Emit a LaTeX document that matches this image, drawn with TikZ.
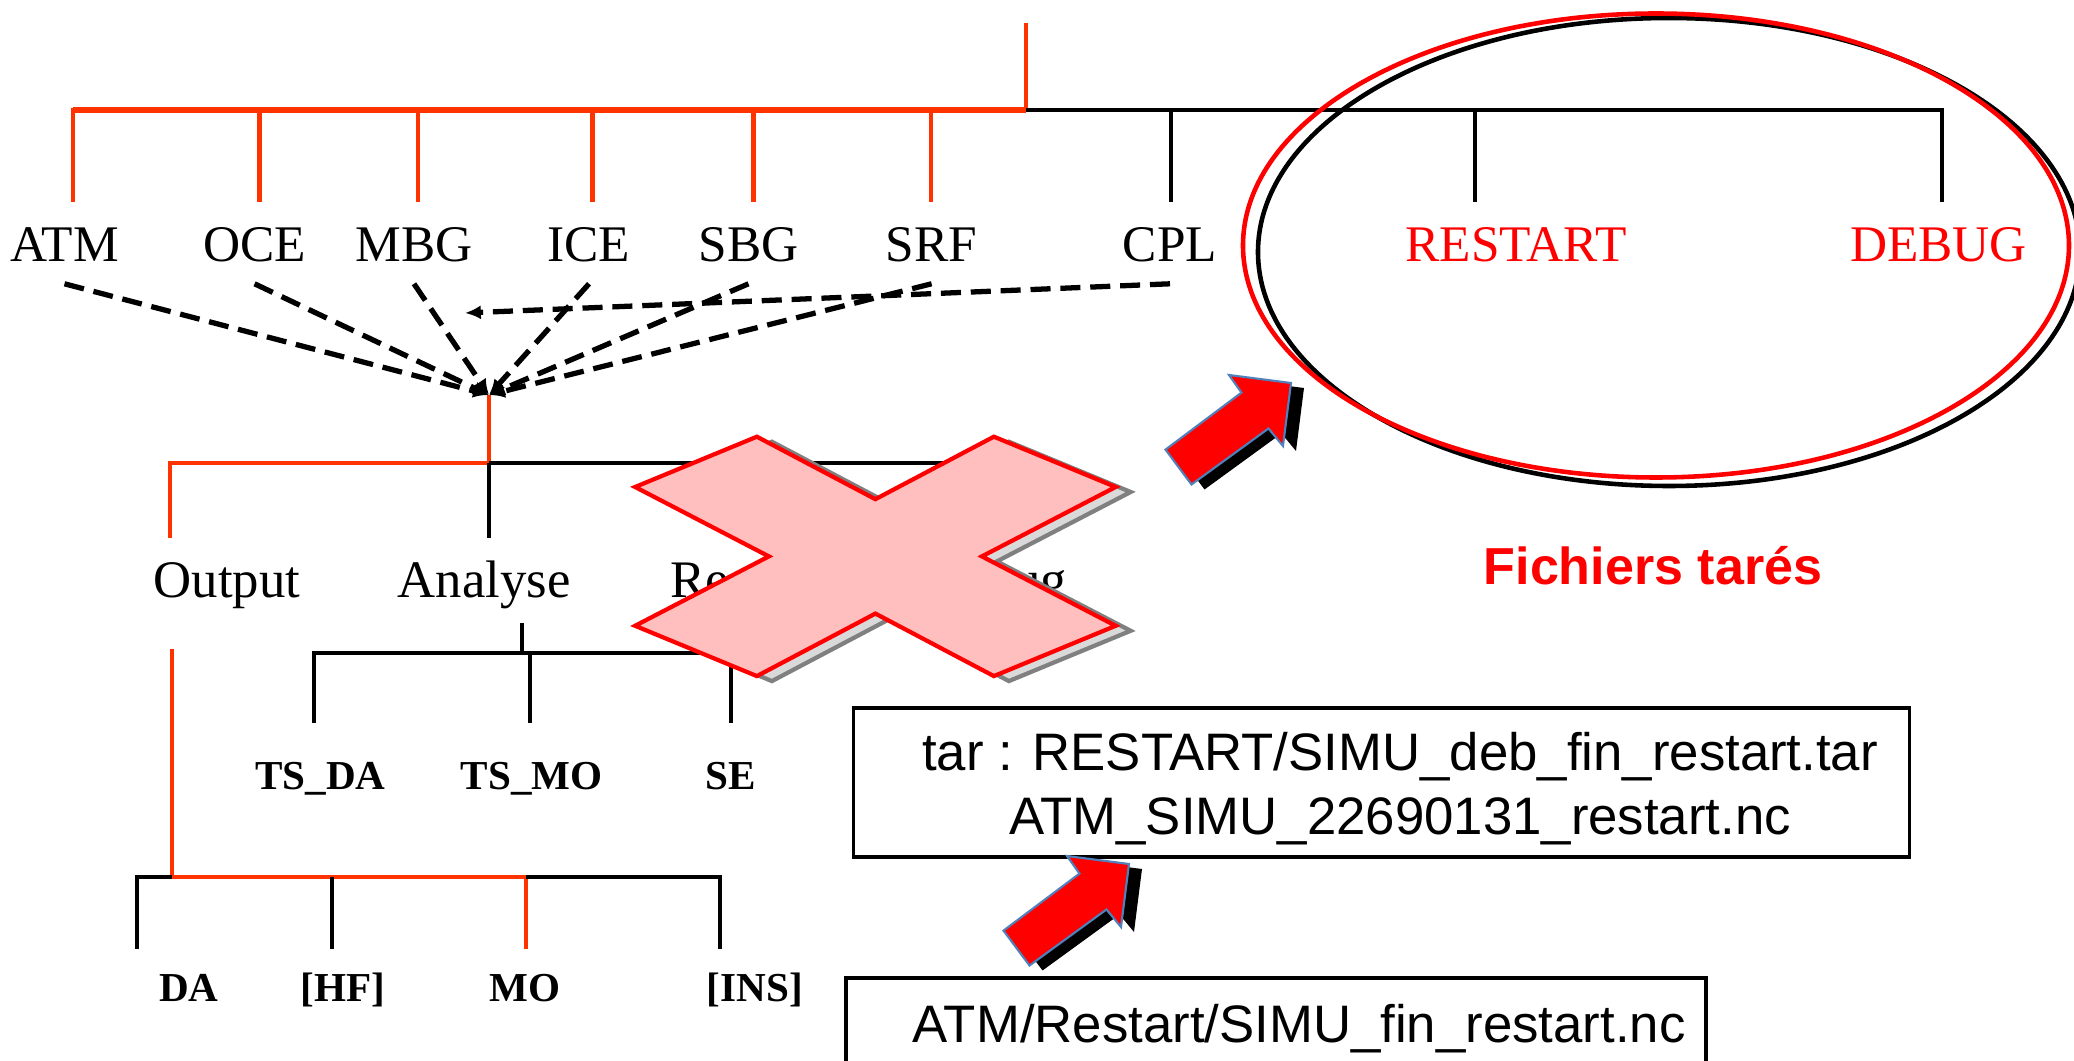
\documentclass[tikz,border=0pt]{standalone}
\usepackage{fontspec}
\setmainfont{Liberation Serif}
\newfontfamily\arialfont{Liberation Sans}
\usepackage{tikz}
\usetikzlibrary{arrows.meta}
\definecolor{treered}{RGB}{255,51,0}
\definecolor{crossfill}{RGB}{255,191,191}
\definecolor{crossshade}{RGB}{217,217,217}
\definecolor{arrowedge}{RGB}{79,129,189}
\tikzset{
    igcmlabel/.style={font={\fontsize{14.6}{17}\selectfont}, anchor=base, text height=11pt, text depth=0pt, inner xsep=0pt, inner ysep=6pt},
    igcmmid/.style={igcmlabel, font={\fontsize{15}{18}\selectfont}},
    igcmsmall/.style={font={\bfseries\fontsize{11.7}{14}\selectfont}, anchor=base, text height=9pt, text depth=0pt, inner xsep=0pt, inner ysep=6pt},
    igcmred/.style={draw=treered, line width=1.4pt},
    igcmblack/.style={draw=black, line width=1.4pt},
    igcmdash/.style={dash pattern=on 5.7pt off 2.8pt, line width=1.5pt, -{Latex[length=4.5pt,width=4pt]}},
    igcmfile/.style={draw, line width=1pt, inner sep=0pt},
    igcmfiletext/.style={font={\arialfont\fontsize{15}{18.2}\selectfont}, align=center, inner sep=0pt},
    igcmnote/.style={font={\arialfont\bfseries\fontsize{14.8}{17}\selectfont}, text=red, anchor=base},
    igcmarrow/.pic={
        \fill[black, shift={(13,5)}] (-62,-8) -- (0,0) -- (-8,63) -- (-22.5,45.5) -- (-99.5,101.5) -- (-125.5,66.6) -- (-49.5,9.6) -- cycle;
        \filldraw[fill=red, draw=arrowedge, line width=0.6pt] (-62,-8) -- (0,0) -- (-8,63) -- (-22.5,45.5) -- (-99.5,101.5) -- (-125.5,66.6) -- (-49.5,9.6) -- cycle;
    },
    igcmcross/.pic={
        \filldraw[fill=crossshade, draw=gray, line width=1.2pt, shift={(15,5)}] (-118.5,-119.7) -- (0,-57.2) -- (118.5,-119.7) -- (240.3,-69.4) -- (106.5,0) -- (240.3,69.4) -- (118.5,119.7) -- (0,57.2) -- (-118.5,119.7) -- (-240.3,69.4) -- (-106.5,0) -- (-240.3,-69.4) -- cycle;
        \filldraw[fill=crossfill, draw=red, line width=1.2pt] (-118.5,-119.7) -- (0,-57.2) -- (118.5,-119.7) -- (240.3,-69.4) -- (106.5,0) -- (240.3,69.4) -- (118.5,119.7) -- (0,57.2) -- (-118.5,119.7) -- (-240.3,69.4) -- (-106.5,0) -- (-240.3,-69.4) -- cycle;
    }
}

\begin{document}
\begin{tikzpicture}[x=0.01cm, y=-0.01cm]
        \useasboundingbox (0,0) rectangle (2074,1061);

        \coordinate (root) at (1026,23);
        \coordinate (jroot) at (1026,110);
        \coordinate (jatm) at (73,110);
        \coordinate (joce) at (259.6,110);
        \coordinate (jmbg) at (418,110);
        \coordinate (jice) at (592.8,110);
        \coordinate (jsbg) at (753.4,110);
        \coordinate (jsrf) at (931,110);
        \coordinate (jcpl) at (1171,110);
        \coordinate (jrestart) at (1475,110);
        \coordinate (jdebug) at (1942,110);

        \node[igcmlabel] (atm) at (64.5,262) {ATM};
        \node[igcmlabel] (oce) at (254.6,262) {OCE};
        \node[igcmlabel] (mbg) at (414,262) {MBG};
        \node[igcmlabel] (ice) at (589,262) {ICE};
        \node[igcmlabel] (sbg) at (748.5,262) {SBG};
        \node[igcmlabel] (srf) at (931.6,262) {SRF};
        \node[igcmlabel] (cpl) at (1170,262) {CPL};
        \node[igcmlabel, text=red] (restarttop) at (1516,262) {RESTART};
        \node[igcmlabel, text=red] (debugtop) at (1938.5,262) {DEBUG};

        \draw[igcmred] (jatm |- atm.north) -- (jatm) -- (jroot) -- (root);
        \draw[igcmred, line width=1.8pt] (jatm) -- (jroot);
        \draw[igcmred] (joce) -- (joce |- oce.north);
        \draw[igcmred] (jmbg) -- (jmbg |- mbg.north);
        \draw[igcmred] (jice) -- (jice |- ice.north);
        \draw[igcmred] (jsbg) -- (jsbg |- sbg.north);
        \draw[igcmred] (jsrf) -- (jsrf |- srf.north);
        \draw[igcmblack] (jroot) -- (jdebug) -- (jdebug |- debugtop.north);
        \draw[igcmblack] (jcpl) -- (jcpl |- cpl.north);
        \draw[igcmblack] (jrestart) -- (jrestart |- restarttop.north);

        \coordinate (hub) at (489,395);
        \coordinate (cpltip) at (465,313);
        \draw[igcmdash] (atm.south) -- (hub);
        \draw[igcmdash] (oce.south) -- (hub);
        \draw[igcmdash] (mbg.south) -- (hub);
        \draw[igcmdash] (ice.south) -- (hub);
        \draw[igcmdash] (sbg.south) -- (hub);
        \draw[igcmdash] (srf.south) -- (hub);
        \draw[igcmdash] (cpl.south) -- (cpltip);

        \coordinate (jana) at (489,463);
        \coordinate (jout) at (170,463);
        \coordinate (jres) at (745,463);
        \coordinate (jdeb) at (997,463);
        \node[igcmmid] (output) at (227,598) {Output};
        \node[igcmmid] (analyse) at (484,598) {Analyse};
        \node[igcmmid] (restart) at (745.5,598) {Restart};
        \node[igcmmid] (debug) at (997,598) {Debug};
        \draw[igcmred] (jout |- output.north) -- (jout) -- (jana) -- (hub);
        \draw[igcmblack] (jana) -- (jdeb) -- (jdeb |- debug.north);
        \draw[igcmblack] (jana) -- (jana |- analyse.north);
        \draw[igcmblack] (jres) -- (jres |- restart.north);

        \coordinate (anafoot) at (522,623);
        \coordinate (jts) at (522,653);
        \coordinate (jtsda) at (314,653);
        \coordinate (jtsmo) at (530,653);
        \coordinate (jse) at (731,653);
        \node[igcmsmall, inner ysep=9.8pt] (tsda) at (320.5,790) {TS\_DA};
        \node[igcmsmall, inner ysep=9.8pt] (tsmo) at (531.7,790) {TS\_MO};
        \node[igcmsmall, inner ysep=9.8pt] (se) at (731,790) {SE};
        \draw[igcmblack] (anafoot) -- (jts);
        \draw[igcmblack] (jtsda |- tsda.north) -- (jtsda) -- (jse) -- (jse |- se.north);
        \draw[igcmblack] (jtsmo) -- (jtsmo |- tsmo.north);

        \coordinate (outfoot) at (172,649);
        \coordinate (jo) at (172,877);
        \coordinate (jda) at (137,877);
        \coordinate (jhf) at (332,877);
        \coordinate (jmo) at (526,877);
        \coordinate (jins) at (720,877);
        \node[igcmsmall] (da) at (189,1002) {DA};
        \node[igcmsmall] (hf) at (343,1002) {[HF]};
        \node[igcmsmall] (mo) at (525,1002) {MO};
        \node[igcmsmall] (ins) at (755,1002) {[INS]};
        \draw[igcmred] (outfoot) -- (jo) -- (jmo) -- (jmo |- mo.north);
        \draw[igcmblack] (jda |- da.north) -- (jda) -- (jo);
        \draw[igcmblack] (jmo) -- (jins) -- (jins |- ins.north);
        \draw[igcmblack] (jhf) -- (jhf |- hf.north);

        \pic (cross) at (875.4,556.4) {igcmcross};

        \draw[line width=1.3pt] (1669,252) ellipse [x radius=411, y radius=234];
        \draw[red, line width=1.3pt] (1656,245.5) ellipse [x radius=413, y radius=232];
        \node[igcmnote] (tarnote) at (1653,585) {Fichiers tarés};

        \node[igcmfile, minimum width=10.55cm, minimum height=1.49cm, label={[igcmfiletext, xshift=0.185cm, yshift=-0.06cm]center:{tar : RESTART/SIMU\_deb\_fin\_restart.tar\\ATM\_SIMU\_22690131\_restart.nc}}] (tarbox) at (1381.5,782.5) {};
        \node[igcmfile, minimum width=8.6cm, minimum height=1.02cm, label={[igcmfiletext, xshift=0.23cm]center:{ATM/Restart/SIMU\_fin\_restart.nc}}] (finbox) at (1276,1029) {};

        \pic (uparrow) at (1291,383) {igcmarrow};
        \pic (lowarrow) at (1129,864) {igcmarrow};
    \end{tikzpicture}
\end{document}
